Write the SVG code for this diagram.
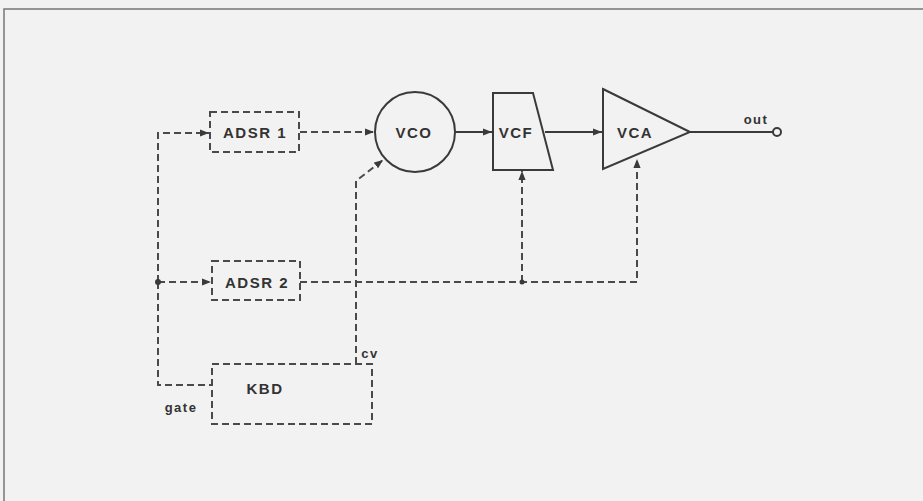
<svg xmlns="http://www.w3.org/2000/svg" width="923" height="501" viewBox="0 0 923 501">
<defs>
<style>
.bg{fill:#f2f2f2}
.frame{fill:none;stroke:#777;stroke-width:1.5}
.solid{fill:none;stroke:#3a3a3a;stroke-width:2}
.dash{fill:none;stroke:#4a4a4a;stroke-width:2;stroke-dasharray:7 4}
.lbl{font-family:"Liberation Sans",Arial,sans-serif;font-weight:bold;font-size:15px;fill:#333;letter-spacing:1.5px}
.sm{font-family:"Liberation Sans",Arial,sans-serif;font-weight:bold;font-size:13px;fill:#333;letter-spacing:1.5px}
.dot{fill:#3a3a3a}
</style>
<marker id="ah" viewBox="0 0 10 10" refX="10" refY="5" markerWidth="9" markerHeight="9" markerUnits="userSpaceOnUse" orient="auto">
<path d="M0,1 L10,5 L0,9 z" fill="#3a3a3a"/>
</marker>
</defs>
<rect class="bg" x="0" y="0" width="923" height="501"/>
<path class="frame" d="M4,501 V9 H923"/>

<g id="connectors">
<path class="dash" d="M158,282 V133 H209" marker-end="url(#ah)"/>
<path class="dash" d="M158,282 V385 H212"/>
<path class="dash" d="M158,282 H211" marker-end="url(#ah)"/>
<path class="dash" d="M300,132 H374" marker-end="url(#ah)"/>
<path class="dash" d="M356,364 V181 L383,160" marker-end="url(#ah)"/>
<path class="dash" d="M300,282 H637 V159" marker-end="url(#ah)"/>
<path class="dash" d="M522,282 V171" marker-end="url(#ah)"/>
<path class="solid" d="M455,132 H492" marker-end="url(#ah)"/>
<path class="solid" d="M545,132 H602" marker-end="url(#ah)"/>
<path class="solid" d="M690,132 H773"/>
<circle class="dot" cx="158" cy="282" r="3"/>
<circle class="dot" cx="522" cy="282" r="2.5"/>
</g>

<g id="adsr1">
<rect class="dash" x="210" y="112" width="89" height="40"/>
<text class="lbl" x="255" y="138" text-anchor="middle">ADSR 1</text>
</g>
<g id="adsr2">
<rect class="dash" x="212" y="261" width="88" height="39"/>
<text class="lbl" x="257" y="288" text-anchor="middle">ADSR 2</text>
</g>
<g id="vco">
<circle class="solid" cx="415" cy="132" r="40"/>
<text class="lbl" x="414" y="138" text-anchor="middle">VCO</text>
</g>
<g id="vcf">
<path class="solid" d="M493,93 H533 L553,170 H493 Z"/>
<text class="lbl" x="516" y="138" text-anchor="middle">VCF</text>
</g>
<g id="vca">
<path class="solid" d="M603,89 L690,132 L603,169 Z"/>
<text class="lbl" x="635" y="138" text-anchor="middle">VCA</text>
</g>
<g id="out">
<circle cx="777" cy="132" r="4" fill="#f2f2f2" stroke="#3a3a3a" stroke-width="2"/>
<text class="sm" x="756" y="124" text-anchor="middle">out</text>
</g>
<g id="kbd">
<rect class="dash" x="212" y="364" width="160" height="60"/>
<text class="lbl" x="265" y="394" text-anchor="middle">KBD</text>
<text class="sm" x="370" y="358" text-anchor="middle">cv</text>
<text class="sm" x="181" y="412" text-anchor="middle">gate</text>
</g>
</svg>
